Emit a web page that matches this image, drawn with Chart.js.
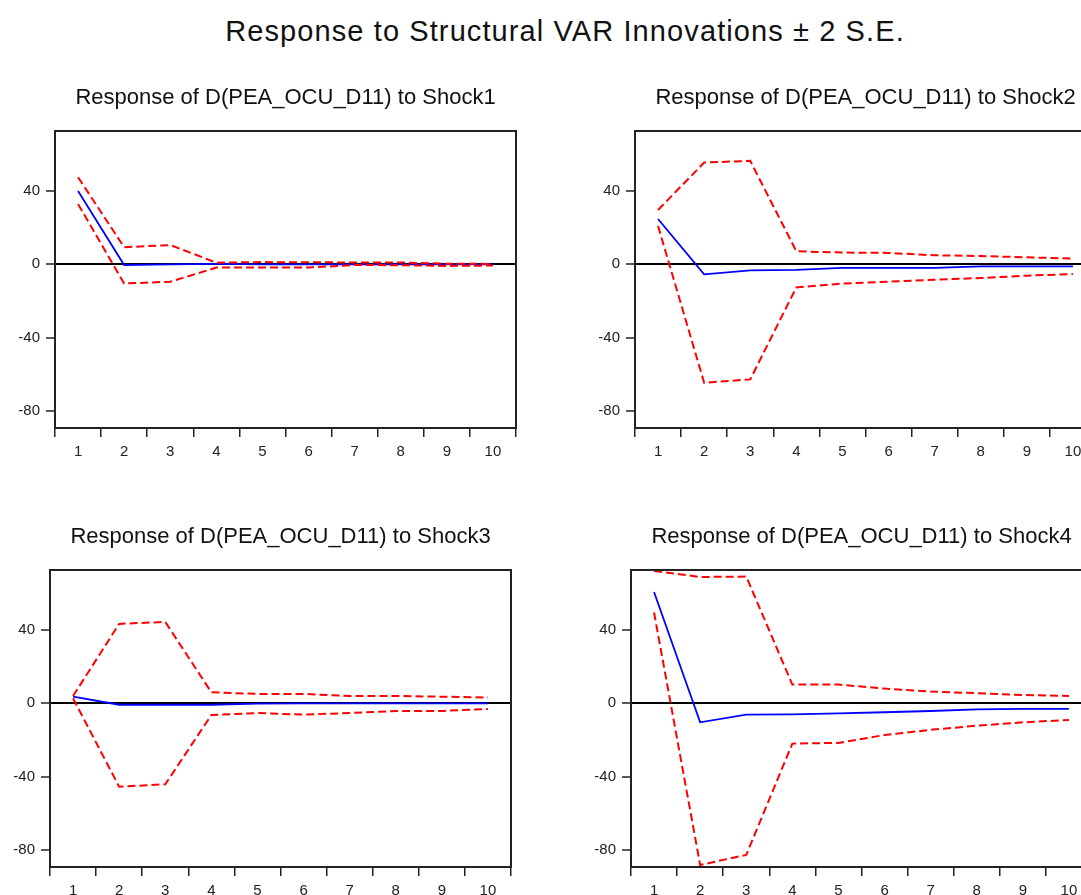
<!DOCTYPE html>
<html>
<head>
<meta charset="utf-8">
<script src="https://cdn.jsdelivr.net/npm/chart.js@4"></script>
<style>
  html, body { margin: 0; padding: 0; background: #fff; overflow: hidden; }
  body { width: 1081px; height: 895px; position: relative; }
  #main-title {
    position: absolute; left: 0; top: 15px; width: 1130px;
    text-align: center; line-height: 32px;
    font-family: 'Liberation Sans', Arial, sans-serif; font-size: 29px;
    letter-spacing: 1.1px; color: #111;
  }
  canvas { position: absolute; }
</style>
</head>
<body>
<div id="main-title">Response to Structural VAR Innovations ± 2 S.E.</div>
<canvas id="chart-shock1" width="571" height="383" style="left:0px;top:85px"></canvas>
<canvas id="chart-shock2" width="571" height="383" style="left:580px;top:85px"></canvas>
<canvas id="chart-shock3" width="561" height="383" style="left:0px;top:524px"></canvas>
<canvas id="chart-shock4" width="571" height="383" style="left:576px;top:524px"></canvas>
<script>
// Periods and y ticks
const periods = ['1', '2', '3', '4', '5', '6', '7', '8', '9', '10'];
const yTicks = [-80, -40, 0, 40];

// Shock1
const resp1  = [40.0, -0.4, 0.0, 0.2, 0.0, 0.0, 0.0, 0.0, 0.0, 0.0];
const upper1 = [47.5, 9.3, 10.5, 0.9, 1.2, 1.1, 1.0, 1.0, 0.3, 0.2];
const lower1 = [32.9, -10.5, -9.5, -1.8, -1.8, -1.8, -0.4, -0.5, -0.9, -0.7];

// Shock2
const resp2  = [24.7, -5.5, -3.3, -3.1, -2.0, -2.0, -2.0, -1.1, -1.1, -1.1];
const upper2 = [29.6, 55.5, 56.4, 7.1, 6.4, 6.2, 4.9, 4.5, 3.8, 3.1];
const lower2 = [20.9, -64.6, -62.8, -12.6, -10.5, -9.5, -8.4, -7.5, -6.2, -5.3];

// Shock3
const resp3  = [3.6, -0.8, -0.8, -0.8, -0.2, 0.0, 0.0, 0.0, 0.0, 0.0];
const upper3 = [4.0, 43.3, 44.4, 6.0, 5.1, 5.1, 4.0, 4.0, 3.6, 3.1];
const lower3 = [2.7, -45.5, -44.2, -6.4, -5.3, -6.2, -5.3, -4.2, -4.2, -3.1];

// Shock4
const resp4  = [60.7, -10.4, -6.2, -6.0, -5.5, -4.9, -4.2, -3.3, -3.1, -3.1];
const upper4 = [72.2, 68.9, 69.1, 10.2, 10.2, 8.0, 6.4, 5.5, 4.5, 4.0];
const lower4 = [49.5, -88.2, -82.7, -22.0, -21.6, -17.3, -14.5, -12.2, -10.4, -9.1];

const FONT = "'Liberation Sans', Arial, sans-serif";
const INK = '#222';

// box around the plot area
const frameBox = {
  id: 'frameBox',
  afterDatasetsDraw(chart) {
    const { ctx, chartArea: a } = chart;
    ctx.save();
    ctx.strokeStyle = INK;
    ctx.lineWidth = 2;
    ctx.strokeRect(a.left, a.top, a.right - a.left, a.bottom - a.top);
    ctx.restore();
  }
};

function drawPanel(id, title, resp, upper, lower, sideWidth) {
  const ctx = document.getElementById(id);
  const band = data => ({
    data: data,
    borderColor: '#ff0000',
    borderWidth: 2,
    borderDash: [8, 4],
    pointRadius: 0,
    fill: false
  });

  new Chart(ctx, {
    type: 'line',
    data: {
      labels: periods,
      datasets: [
        band(upper),
        band(lower),
        {
          data: resp,
          borderColor: '#0000ff',
          borderWidth: 1.8,
          pointRadius: 0,
          fill: false
        }
      ]
    },
    options: {
      responsive: false,
      animation: false,
      layout: { padding: 0 },
      scales: {
        x: {
          offset: true,
          afterFit: s => { s.height = 40; },
          grid: {
            offset: true,
            drawOnChartArea: false,
            color: INK,
            lineWidth: 1.5,
            tickLength: 9
          },
          border: { display: false },
          ticks: { color: INK, padding: 6, font: { family: FONT, size: 15 }, maxRotation: 0 }
        },
        y: {
          min: -89.3,
          max: 72.7,
          afterFit: s => { s.width = sideWidth; },
          afterBuildTicks: s => { s.ticks = yTicks.map(v => ({ value: v })); },
          grid: {
            color: c => (c.tick && c.tick.value === 0) ? '#000' : 'rgba(0,0,0,0)',
            lineWidth: 2,
            tickColor: INK,
            tickWidth: 1.5,
            tickLength: 9
          },
          border: { display: false },
          ticks: { color: INK, padding: 6, font: { family: FONT, size: 15 } }
        },
        y2: {
          position: 'right',
          display: true,
          afterFit: s => { s.width = sideWidth; },
          grid: { display: false },
          border: { display: false },
          ticks: { display: false }
        }
      },
      plugins: {
        legend: { display: false },
        tooltip: { enabled: false },
        title: {
          display: true,
          text: title,
          color: '#111',
          font: { family: FONT, size: 22, weight: 'normal', lineHeight: 1.2 },
          padding: { top: 0, bottom: 19.6 }
        }
      }
    },
    plugins: [frameBox]
  });
}

drawPanel('chart-shock1', 'Response of D(PEA_OCU_D11) to Shock1', resp1, upper1, lower1, 55);
drawPanel('chart-shock2', 'Response of D(PEA_OCU_D11) to Shock2', resp2, upper2, lower2, 55);
drawPanel('chart-shock3', 'Response of D(PEA_OCU_D11) to Shock3', resp3, upper3, lower3, 50);
drawPanel('chart-shock4', 'Response of D(PEA_OCU_D11) to Shock4', resp4, upper4, lower4, 55);
</script>
</body>
</html>
